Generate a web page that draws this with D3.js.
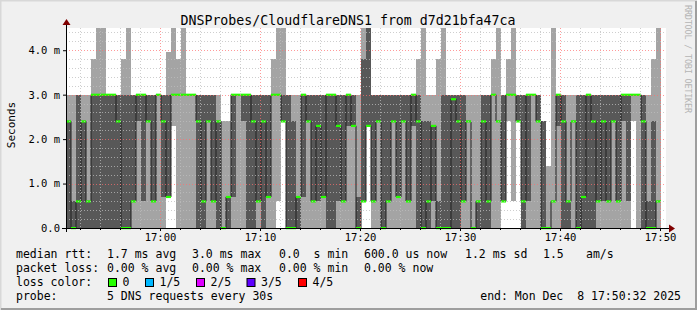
<!DOCTYPE html>
<html><head><meta charset="utf-8">
<script src="https://cdn.jsdelivr.net/npm/d3@7"></script>
<style>
body{margin:0;background:#f0f0f0}
svg{display:block}
text{font-family:"DejaVu Sans Mono",monospace;white-space:pre}
</style></head><body>
<svg id="c" width="697" height="310"></svg>
<script>
// ---- data (ms), one value per 30 s step, 5 pings sorted: min, 2nd, median, 4th, max
const stepStart = new Date(2025, 11, 8, 16, 50, 36);
const stepSeconds = 30;
const minRtt = [
0,0,0,0,0,0,0,0,0,0, 0,0,0,0,0,0,0,0,0,0, 0.7,2.3,0,0,0,0,0,0,0,0,
0,0,0,0,0,0,0,0,0,0, 0,0,0.6,2.4,0,0,0,0,0,0, 0,0,0,0,0,0,0,0,0,0.6,
2.3,0,0,0,0,0,0,0,0,0, 0,0,0,0,0,0,0,0,0,0, 0,0,0,0,0,0,0,0.6,2.4,0.6,
2.4,0,0,0,0,0,0,0,0,0, 0,0,0,0,0,0,0,0,0,0, 0,0,0,2.4,0,0,0,0,0];
const lowRtt = [
0,0,0,0,0,0,0,0,0,0, 0,0,0,0.6,2.4,0.6,2.4,0.6,3.0,0.7, 0.7,3.0,3.0,3.0,3.0,3.0,0,0,2.4,0.6,
0,0,0,0.7,3.0,2.4,0,0,0.6,0, 0.7,3.0,3.0,2.4,0,0,0,0.7,2.4,0.6, 0.6,0.7,0,0,0.6,0.6,2.3,2.3,0,0.6,
2.3,0.6,2.4,0,0.6,2.4,0.7,2.4,0.6,2.3, 0,0,0,0.6,0,0,0,0,0,0.6, 2.4,0,0,0,0,3.0,2.4,0.6,3.0,3.0,
2.4,0,0.6,3.0,2.4,0,0,0.6,2.3,0, 0,2.4,0,0,0,0,0.6,0.6,0.6,2.4, 0.6,2.4,0.6,3.0,3.0,0,0,0,0.6];
const medianRtt = [
2.4,0,0.6,2.4,0.6,3.0,3.0,3.0,3.0,3.0, 2.4,0,0,0.6,3.0,3.0,2.4,0.6,3.0,2.4, 0.7,3.0,3.0,3.0,3.0,3.0,2.4,0.6,2.4,0.6,
2.4,0,0.7,3.0,3.0,3.0,3.0,2.4,0.6,2.4, 0.7,3.0,3.0,2.4,0,0,0.7,3.0,2.4,0.6, 2.3,0.7,3.0,3.0,2.3,0.6,3.0,2.3,0,0.6,
2.3,0.6,2.4,0,0.6,2.4,0.7,2.4,0.6,3.0, 2.4,0,0.6,2.3,0,0,0,2.9,2.4,0.6, 2.4,0,0.6,2.4,0.6,3.0,2.4,0.6,3.0,3.0,
2.4,0.6,3.0,3.0,2.4,0,0,0.6,3.0,2.4, 0.6,2.4,0,0.7,3.0,2.4,0.6,2.4,0.6,2.4, 0.6,3.0,3.0,3.0,3.0,2.4,0,0,0.6];
const highRtt = [
2.4,0.6,3.0,2.4,0.6,3.0,3.0,3.0,3.0,3.0, 3.0,3.0,3.0,3.0,3.0,3.0,3.0,3.0,3.0,3.0, 3.0,3.0,3.0,3.0,3.0,3.0,3.0,3.0,3.0,3.0,
2.4,0,0.7,3.0,3.0,3.0,3.0,3.0,3.0,3.0, 3.0,3.0,3.0,3.0,3.0,2.4,0.7,3.0,3.0,3.0, 3.0,3.0,3.0,3.0,3.0,3.0,3.0,3.0,0.7,3.8,
4.6,3.0,3.0,3.0,3.0,3.0,3.0,3.0,3.0,3.0, 3.0,2.4,2.4,2.3,0.6,3.0,3.0,3.0,3.0,3.0, 2.4,0,0.6,3.0,3.0,3.0,2.4,3.0,3.0,3.0,
3.0,3.0,3.0,3.0,3.0,2.4,0,0.6,3.0,3.0, 0.6,2.4,3.0,3.0,3.0,3.0,3.0,3.0,3.0,3.0, 3.0,3.0,3.0,3.0,3.0,3.0,0.6,2.4,0.6];
const maxRtt = [
3.0,3.0,3.0,3.0,3.0,3.8,4.6,4.6,3.0,3.0, 3.0,3.8,4.6,3.0,3.0,3.0,3.0,3.0,3.0,3.0, 3.95,4.6,3.8,4.6,3.0,3.0,3.0,3.0,3.0,3.0,
3.0,2.4,2.4,3.0,3.0,3.0,3.0,3.0,3.0,3.0, 3.0,3.8,4.6,4.6,3.0,3.0,3.0,3.0,3.0,3.0, 3.0,3.0,3.0,3.0,3.0,3.0,3.0,3.0,3.0,4.6,
4.6,3.0,3.0,3.0,3.0,3.0,3.0,3.0,3.0,3.0, 3.8,4.6,3.0,3.0,3.8,4.6,3.0,3.0,3.0,3.0, 3.0,3.0,3.0,3.0,3.0,3.8,4.6,3.0,3.8,4.6,
3.0,3.0,3.0,3.0,3.0,2.4,1.4,4.6,3.0,3.0, 3.0,3.0,3.0,3.0,3.0,3.0,3.0,3.0,3.0,3.0, 3.0,3.0,3.0,3.0,3.0,3.0,3.0,3.8,4.6];

const yTickValues = [0, 1, 2, 3, 4];
const yTickLabels = ["0.0", "1.0 m", "2.0 m", "3.0 m", "4.0 m"];
const xTickFormat = "%H:%M";

const titleText = "DNSProbes/CloudflareDNS1 from d7d21bfa47ca";
const yLabel = "Seconds";
const medianStats = ["1.7 ms avg", "3.0 ms max", "0.0  s min", "600.0 us now", "1.2 ms sd", "1.5", "am/s"];
const lossStats = ["0.00 % avg", "0.00 % max", "0.00 % min", "0.00 % now"];
const lossLabels = ["0", "1/5", "2/5", "3/5", "4/5"];
const lossColors = ["#26ff00", "#00b8ff", "#dd00ff", "#5e00ff", "#ff0000"];
const probeText = "5 DNS requests every 30s";
const endText = "end: Mon Dec  8 17:50:32 2025";
const watermark = "RRDTOOL / TOBI OETIKER";

// ---- layout
const W = 697, H = 310;
const P = {left: 66, right: 666, top: 28, bottom: 228};
const svg = d3.select("#c");

svg.append("rect").attr("width", W).attr("height", H).attr("fill", "#f0f0f0");
svg.append("path").attr("d", `M0.5,${H} V0.5 H${W}`).attr("stroke", "#d8d8d8").attr("stroke-width", 2).attr("fill", "none");
svg.append("path").attr("d", `M${W-1},1 V${H-1} H1`).attr("stroke", "#9e9e9e").attr("stroke-width", 2).attr("fill", "none");

const endTime = d3.timeSecond.offset(stepStart, 3600);
const x = d3.scaleTime().domain([stepStart, endTime]).range([P.left, P.right]);
const y = d3.scaleLinear().domain([0, 4.5]).range([P.bottom, P.top]).clamp(true);

svg.append("rect").attr("x", P.left).attr("y", P.top).attr("width", P.right - P.left).attr("height", P.bottom - P.top).attr("fill", "#ffffff");

const steps = medianRtt.map((m, i) => ({
  t0: d3.timeSecond.offset(stepStart, stepSeconds * i),
  t1: d3.timeSecond.offset(stepStart, stepSeconds * (i + 1)),
  p1: minRtt[i], p2: lowRtt[i], p3: m, p4: highRtt[i], p5: maxRtt[i]
}));

const g = svg.append("g");
g.selectAll("rect.s1").data(steps).join("rect")
  .attr("x", d => x(d.t0)).attr("width", d => x(d.t1) - x(d.t0))
  .attr("y", d => y(d.p5)).attr("height", d => y(d.p1) - y(d.p5))
  .attr("fill", "#a4a4a4").attr("shape-rendering", "crispEdges");
g.selectAll("rect.s2").data(steps).join("rect")
  .attr("x", d => x(d.t0)).attr("width", d => x(d.t1) - x(d.t0))
  .attr("y", d => y(d.p4)).attr("height", d => y(d.p2) - y(d.p4))
  .attr("fill", "#585858").attr("shape-rendering", "crispEdges");

const medPts = steps.map(d => [x(d.t0), y(d.p3)]);
medPts.push([x(steps[steps.length - 1].t1), y(steps[steps.length - 1].p3)]);
g.append("path").attr("d", d3.line().curve(d3.curveStepAfter)(medPts))
  .attr("fill", "none").attr("stroke", "#202020").attr("stroke-width", 1);
g.selectAll("rect.med").data(steps).join("rect")
  .attr("x", d => x(d.t0)).attr("width", d => x(d.t1) - x(d.t0))
  .attr("y", d => y(d.p3) - 1).attr("height", 2.2)
  .attr("fill", lossColors[0]);

// ---- grid (drawn on top, like rrdtool)
const grid = svg.append("g");
const minorX = d3.timeMinute.every(2).range(stepStart, endTime).filter(t => t.getMinutes() % 10 !== 0);
const majorX = d3.timeMinute.every(10).range(stepStart, endTime);
const minorY = d3.range(0.2, 4.5, 0.2).filter(v => Math.abs(v - Math.round(v)) > 0.01);
const majorY = yTickValues.filter(v => v > 0);
grid.selectAll("line.vx").data(minorX).join("line")
  .attr("x1", d => Math.round(x(d)) + 0.5).attr("x2", d => Math.round(x(d)) + 0.5)
  .attr("y1", P.top).attr("y2", P.bottom)
  .attr("stroke", "rgba(190,190,190,0.75)").attr("stroke-dasharray", "1,2");
grid.selectAll("line.hy").data(minorY).join("line")
  .attr("x1", P.left).attr("x2", P.right)
  .attr("y1", d => Math.round(y(d)) + 0.5).attr("y2", d => Math.round(y(d)) + 0.5)
  .attr("stroke", "rgba(190,190,190,0.75)").attr("stroke-dasharray", "1,2");
grid.selectAll("line.VX").data(majorX).join("line")
  .attr("x1", d => Math.round(x(d)) + 0.5).attr("x2", d => Math.round(x(d)) + 0.5)
  .attr("y1", P.top).attr("y2", P.bottom)
  .attr("stroke", "rgba(255,110,110,0.7)").attr("stroke-dasharray", "1,2");
grid.selectAll("line.HY").data(majorY).join("line")
  .attr("x1", P.left).attr("x2", P.right)
  .attr("y1", d => Math.round(y(d)) + 0.5).attr("y2", d => Math.round(y(d)) + 0.5)
  .attr("stroke", "rgba(255,110,110,0.7)").attr("stroke-dasharray", "1,2");

// ---- axes
const xAxis = d3.axisBottom(x).tickValues(majorX).tickFormat(d3.timeFormat(xTickFormat)).tickSize(3).tickPadding(3);
const xg = svg.append("g").attr("transform", `translate(0,${P.bottom})`).call(xAxis);
xg.select(".domain").remove();
xg.selectAll(".tick line").attr("stroke", "#000");
xg.selectAll(".tick text").attr("font-family", "DejaVu Sans Mono").attr("font-size", 10.5).attr("fill", "#000");
const xm = svg.append("g").attr("transform", `translate(0,${P.bottom})`)
  .call(d3.axisBottom(x).tickValues(minorX).tickFormat("").tickSize(2));
xm.select(".domain").remove();
xm.selectAll(".tick line").attr("stroke", "#000");

const yAxis = d3.axisLeft(y).tickValues(yTickValues).tickFormat((d, i) => yTickLabels[i]).tickSize(3).tickPadding(3);
const yg = svg.append("g").attr("transform", `translate(${P.left},0)`).call(yAxis);
yg.select(".domain").remove();
yg.selectAll(".tick line").attr("stroke", "#000");
yg.selectAll(".tick text").attr("font-family", "DejaVu Sans Mono").attr("font-size", 10.5).attr("fill", "#000");

svg.append("line").attr("x1", P.left - 4).attr("x2", P.right + 4).attr("y1", P.bottom + 0.5).attr("y2", P.bottom + 0.5).attr("stroke", "#000");
svg.append("line").attr("x1", P.left + 0.5).attr("x2", P.left + 0.5).attr("y1", P.bottom + 4).attr("y2", P.top - 4).attr("stroke", "#000");
svg.append("path").attr("d", `M${P.right + 3},${P.bottom - 3.5} L${P.right + 9},${P.bottom + 0.5} L${P.right + 3},${P.bottom + 4.5} Z`).attr("fill", "#800000");
svg.append("path").attr("d", `M${P.left - 3.5},${P.top - 3} L${P.left + 0.5},${P.top - 9} L${P.left + 4.5},${P.top - 3} Z`).attr("fill", "#800000");

// ---- texts
svg.append("text").attr("x", 348).attr("y", 24.5).attr("text-anchor", "middle").attr("font-size", 13.25).text(titleText);
svg.append("text").attr("transform", "translate(15,125) rotate(-90)").attr("text-anchor", "middle").attr("font-size", 11).text(yLabel);
svg.append("text").attr("transform", "translate(684.5,5) rotate(90)").attr("font-size", 8.5)
  .attr("textLength", 108).attr("lengthAdjust", "spacing").attr("fill", "#b4b4b4").text(watermark);

const fs = 11.5;
const rowY = [258, 272, 286, 300];
const leg = svg.append("g").attr("font-size", fs);
leg.append("text").attr("x", 16).attr("y", rowY[0]).text("median rtt:");
const medX = [107, 192, 279, 364, 465, 543, 586];
medianStats.forEach((s, i) => leg.append("text").attr("x", medX[i]).attr("y", rowY[0]).text(s));
leg.append("text").attr("x", 16).attr("y", rowY[1]).text("packet loss:");
lossStats.forEach((s, i) => leg.append("text").attr("x", medX[i]).attr("y", rowY[1]).text(s));
leg.append("text").attr("x", 16).attr("y", rowY[2]).text("loss color:");
const boxX = [108.5, 145.5, 196.5, 247, 298.5];
lossLabels.forEach((s, i) => {
  leg.append("rect").attr("x", boxX[i]).attr("y", rowY[2] - 7.5).attr("width", 8).attr("height", 8)
    .attr("fill", lossColors[i]).attr("stroke", "#000").attr("stroke-width", 1);
  leg.append("text").attr("x", boxX[i] + 14).attr("y", rowY[2]).text(s);
});
leg.append("text").attr("x", 16).attr("y", rowY[3]).text("probe:");
leg.append("text").attr("x", 107).attr("y", rowY[3]).text(probeText);
leg.append("text").attr("x", 681).attr("y", rowY[3]).attr("text-anchor", "end").text(endText);
</script>
</body></html>
